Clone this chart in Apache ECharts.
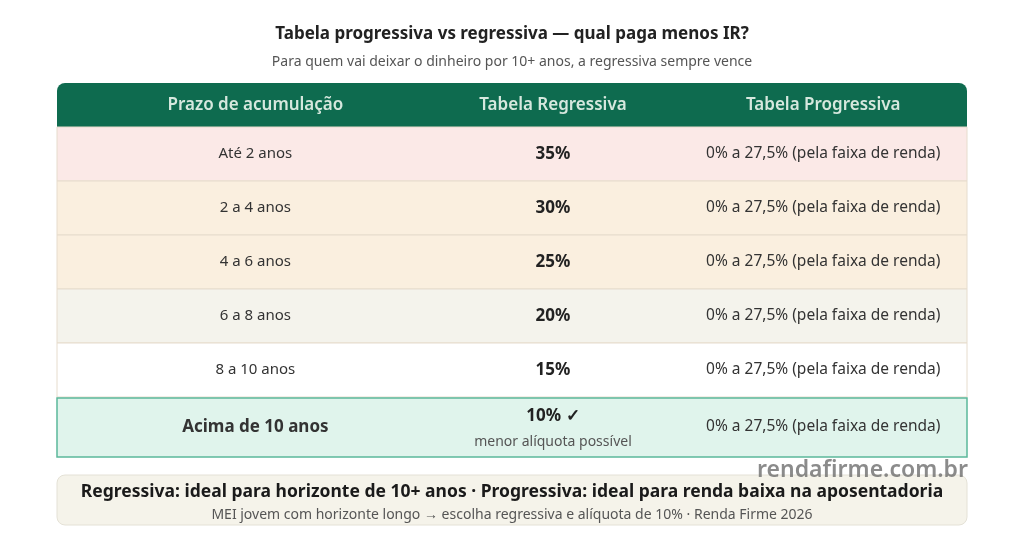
<!DOCTYPE html>
<html><head><meta charset="utf-8">
<script src="https://cdn.jsdelivr.net/npm/echarts@6/dist/echarts.min.js"></script>
<style>html,body{margin:0;padding:0;background:#fff}#c{width:1024px;height:540px}</style>
</head><body><div id="c"></div>
<script>
const headers = ['Prazo de acumulação','Tabela Regressiva','Tabela Progressiva'];
const prazos = ['Até 2 anos','2 a 4 anos','4 a 6 anos','6 a 8 anos','8 a 10 anos','Acima de 10 anos'];
const regressiva = [35,30,25,20,15,10];
const progressiva = ['0% a 27,5% (pela faixa de renda)','0% a 27,5% (pela faixa de renda)','0% a 27,5% (pela faixa de renda)','0% a 27,5% (pela faixa de renda)','0% a 27,5% (pela faixa de renda)','0% a 27,5% (pela faixa de renda)'];
const rowColors = ['#fbe9e7','#faefdf','#faefdf','#f4f3ec','#ffffff','#e0f4ec'];
const font = '"Noto Sans", "Open Sans", sans-serif';
const ROW = 54, LAST = 60, TOTAL = 5*ROW + LAST;
const colCenters = [0.218, 0.545, 0.842];

const chart = echarts.init(document.getElementById('c'));
chart.setOption({
  animation:false,
  title:[{text:'Tabela progressiva vs regressiva — qual paga menos IR?',left:'center',top:21,
    textStyle:{fontFamily:font,fontSize:17,fontWeight:'bold',color:'#222'}},
    {text:'Para quem vai deixar o dinheiro por 10+ anos, a regressiva sempre vence',left:'center',top:50,
    textStyle:{fontFamily:font,fontSize:14,fontWeight:'normal',color:'#555'}}],
  grid:{left:57,right:57,top:127,bottom:83},
  xAxis:{type:'value',min:0,max:1,show:false},
  yAxis:{type:'value',min:0,max:TOTAL,inverse:true,show:false},
  graphic:[
    {type:'rect',shape:{x:57,y:83,width:910,height:44,r:[8,8,0,0]},style:{fill:'#0e6b4f'}},
    ...headers.map((h,i)=>({type:'text',x:57+910*colCenters[i],y:105,style:{text:h,fill:'#d6e8de',font:'600 17px '+font,textAlign:'center',textVerticalAlign:'middle'}})),
    {type:'rect',shape:{x:57,y:475,width:910,height:50,r:8},style:{fill:'#f5f3ea',stroke:'#e4e1d6',lineWidth:1}},
    {type:'text',x:512,y:492,style:{text:'Regressiva: ideal para horizonte de 10+ anos · Progressiva: ideal para renda baixa na aposentadoria',fill:'#1a1a1a',font:'bold 17.5px '+font,textAlign:'center',textVerticalAlign:'middle'}},
    {type:'text',x:512,y:515,style:{text:'MEI jovem com horizonte longo → escolha regressiva e alíquota de 10% · Renda Firme 2026',fill:'#555',font:'14px '+font,textAlign:'center',textVerticalAlign:'middle'}},
    {type:'text',x:968,y:470,z:10,style:{text:'rendafirme.com.br',fill:'rgba(110,110,110,0.8)',font:'600 23px '+font,textAlign:'right',textVerticalAlign:'middle'}}
  ],
  series:[{type:'custom',data:prazos.map((p,i)=>[i]),
    renderItem:(params,api)=>{
      const i = api.value(0);
      const last = i===5;
      const y0 = i*ROW, y1 = last ? TOTAL : y0+ROW;
      const p0 = api.coord([0,y0]), p1 = api.coord([1,y1]);
      const w = p1[0]-p0[0], h = p1[1]-p0[1];
      const cy = p0[1]+h/2;
      const cx = k => p0[0]+w*colCenters[k];
      const ch = [
        {type:'rect',shape:{x:p0[0],y:p0[1]+(last?1:0),width:w,height:h-(last?1:0)},
          style:{fill:rowColors[i],stroke:last?'#5bb89a':'#e6dccd',lineWidth:last?1.5:1}},
        {type:'text',x:cx(0),y:cy,style:{text:prazos[i],fill:'#333',font:(last?'bold 17px ':'15px ')+font,textAlign:'center',textVerticalAlign:'middle'}},
        {type:'text',x:cx(2),y:cy,style:{text:progressiva[i],fill:'#333',font:'15.5px '+font,textAlign:'center',textVerticalAlign:'middle'}}
      ];
      if(last){
        ch.push({type:'text',x:cx(1),y:cy-11,style:{text:regressiva[i]+'% ✓',fill:'#222',font:'bold 17px '+font,textAlign:'center',textVerticalAlign:'middle'}});
        ch.push({type:'text',x:cx(1),y:cy+15,style:{text:'menor alíquota possível',fill:'#555',font:'14px '+font,textAlign:'center',textVerticalAlign:'middle'}});
      } else {
        ch.push({type:'text',x:cx(1),y:cy,style:{text:regressiva[i]+'%',fill:'#222',font:'bold 17px '+font,textAlign:'center',textVerticalAlign:'middle'}});
      }
      return {type:'group',children:ch};
    }}]
});
</script></body></html>
